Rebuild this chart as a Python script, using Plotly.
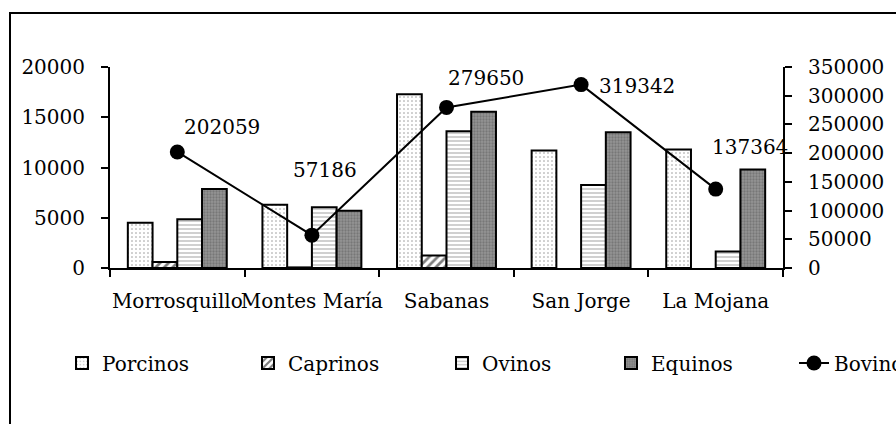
import plotly.graph_objects as go

# Datos
regiones = ["Morrosquillo", "Montes María", "Sabanas", "San Jorge", "La Mojana"]
porcinos = [4500, 6300, 17300, 11700, 11800]
caprinos = [600, 60, 1250, None, None]
ovinos = [4850, 6050, 13600, 8250, 1650]
equinos = [7850, 5700, 15550, 13500, 9800]
bovinos = [202059, 57186, 279650, 319342, 137364]

ticks_izq = [0, 5000, 10000, 15000, 20000]
ticks_der = [0, 50000, 100000, 150000, 200000, 250000, 300000, 350000]

FONT = "DejaVu Serif"
W, H = 896, 424
L, R, T, B = 110, 113, 67, 156
PW, PH = W - L - R, H - T - B


def px_x(x):
    return (x - L) / PW


def px_y(y):
    return (H - B - y) / PH


fig = go.Figure()

series = [
    ("Porcinos", porcinos, dict(bgcolor="white", fgcolor="#222222", shape=".", size=4, solidity=0.12)),
    ("Caprinos", caprinos, dict(bgcolor="white", fgcolor="black", shape="/", size=6, solidity=0.45)),
    ("Ovinos", ovinos, dict(bgcolor="white", fgcolor="#444444", shape="-", size=4, solidity=0.25)),
    ("Equinos", equinos, dict(bgcolor="#959595", fgcolor="#5a5a5a", shape=".", size=3, solidity=0.45)),
]
leyendas = ["legend", "legend2", "legend3", "legend4", "legend5"]

for i, (nombre, valores, patron) in enumerate(series):
    fig.add_trace(go.Bar(
        x=regiones, y=valores, name=nombre,
        marker=dict(color="white", pattern=patron, line=dict(color="black", width=2)),
        legend=leyendas[i],
    ))

fig.add_trace(go.Scatter(
    x=regiones, y=bovinos, name="Bovinos", yaxis="y2",
    mode="lines+markers",
    line=dict(color="black", width=2),
    marker=dict(color="black", size=15),
    legend="legend5",
))

# etiquetas de los bovinos
desplaz = [(45, 25), (13, 65), (39, 29), (56, -1), (34, 42)]
for reg, val, (dx, dy) in zip(regiones, bovinos, desplaz):
    fig.add_annotation(
        x=reg, y=val, yref="y2", text=str(val), showarrow=False,
        xshift=dx, yshift=dy, font=dict(family=FONT, size=20, color="black"),
    )

eje = dict(showgrid=False, zeroline=False, linecolor="black", linewidth=2,
           tickcolor="black", tickwidth=2, ticklen=7, tickformat="d",
           tickfont=dict(family=FONT, size=20, color="black"))

fig.update_layout(
    width=W, height=H,
    margin=dict(l=L, r=R, t=T, b=B, autoexpand=False),
    paper_bgcolor="white", plot_bgcolor="white",
    barmode="group", bargap=0.265, bargroupgap=0,
    showlegend=True,
    font=dict(family=FONT, size=20, color="black"),
    xaxis=dict(eje, type="category", range=[-0.5, 4.5], showline=True,
               ticks="outside", tickson="boundaries", tickangle=0,
               ticklabelstandoff=14),
    xaxis2=dict(eje, overlaying="x", anchor="y", range=[-0.5, 4.5],
                tickvals=[-0.5, 0.5, 1.5, 2.5, 3.5, 4.5], ticks="inside",
                showticklabels=False, showline=False),
    yaxis=dict(eje, range=[0, 20000], tickvals=ticks_izq, showline=True,
               ticks="outside", ticklabelstandoff=12),
    yaxis2=dict(eje, range=[0, 350000], tickvals=ticks_der, overlaying="y",
                side="right", showline=True, ticks="outside", ticklabelstandoff=12),
    yaxis3=dict(eje, range=[0, 20000], tickvals=ticks_izq, overlaying="y",
                anchor="x", ticks="inside", showticklabels=False, showline=False),
    yaxis4=dict(eje, range=[0, 350000], tickvals=ticks_der, overlaying="y",
                side="right", anchor="x", ticks="inside", showticklabels=False,
                showline=False),
)

# leyendas separadas, una por serie
texto_x = [102, 288, 482, 651, 834]
for ley, tx in zip(leyendas, texto_x):
    fig.update_layout({ley: dict(
        x=px_x(tx - 40), y=px_y(363), xanchor="left", yanchor="middle",
        orientation="h", bgcolor="rgba(0,0,0,0)", borderwidth=0,
        font=dict(family=FONT, size=20, color="black"),
    )})

# marco del gráfico
fig.add_shape(type="rect", xref="paper", yref="paper",
              x0=px_x(10), x1=px_x(W + 40), y0=px_y(H + 40), y1=px_y(13),
              line=dict(color="black", width=2), fillcolor="rgba(0,0,0,0)")

# sin margen en la página, para que el gráfico ocupe toda la ventana
fig.write_html("out.html", config={"displayModeBar": False},
               post_script="document.body.style.margin='0';")
